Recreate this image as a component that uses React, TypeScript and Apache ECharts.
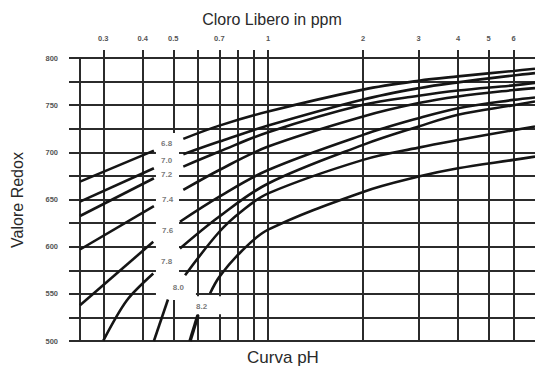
import React, { useEffect, useRef } from "react";
import * as echarts from "echarts";

// pH curve labels
const phLabels = ["6.8", "7.0", "7.2", "7.4", "7.6", "7.8", "8.0", "8.2"];

// left-hand pieces of each pH curve: [ppm, mV]
const leftSegments: number[][][] = [
  [[0.253, 668.9], [0.434, 701.8]],
  [[0.253, 647.7], [0.434, 683.1]],
  [[0.253, 632.5], [0.434, 672.5]],
  [[0.253, 597.0], [0.434, 643.1]],
  [[0.253, 537.9], [0.432, 605.2]],
  [[0.3, 500.5], [0.356, 543.0], [0.432, 571.6]],
  [[0.434, 500.0], [0.481, 544.0]],
  [[0.565, 500.0], [0.599, 527.6]],
];

// right-hand pieces of each pH curve: [ppm, mV]
const rightSegments: number[][][] = [
  [[0.538, 714.3], [0.7, 728.3], [1, 743.3], [2, 766.5], [3, 775.9], [4, 780.5], [6, 786.3], [7.02, 788.6]],
  [[0.538, 698.0], [0.7, 711.4], [1, 728.4], [2, 756.0], [3, 768.0], [4, 774.2], [6, 781.5], [7.02, 784.0]],
  [[0.538, 684.9], [0.7, 700.8], [1, 721.4], [2, 750.4], [3, 760.0], [4, 765.5], [6, 771.0], [7.02, 773.6]],
  [[0.538, 660.1], [0.7, 681.3], [1, 706.1], [2, 738.0], [3, 752.2], [4, 759.2], [6, 766.0], [7.02, 768.1]],
  [[0.525, 626.4], [0.7, 653.0], [1, 681.3], [2, 718.5], [3, 736.2], [4, 746.8], [6, 755.6], [7.02, 758.2]],
  [[0.525, 598.1], [0.7, 632.0], [1, 667.0], [2, 707.9], [3, 727.4], [4, 739.8], [6, 750.0], [7.02, 753.9]],
  [[0.545, 569.8], [0.7, 615.8], [0.82, 637.1], [1, 656.5], [2, 692.0], [3, 705.0], [4, 713.0], [6, 723.5], [7.02, 727.4]],
  [[0.654, 550.3], [0.7, 568.0], [0.82, 594.6], [1, 618.0], [2, 658.0], [3, 674.3], [4, 683.1], [6, 692.0], [7.02, 695.5]],
];

// where each pH label sits: [ppm, mV]
const labelAnchors: number[][] = [
  [0.4765, 709.0],
  [0.4765, 691.2],
  [0.4765, 676.0],
  [0.48, 650.2],
  [0.48, 617.6],
  [0.4765, 584.7],
  [0.5188, 556.7],
  [0.6152, 536.9],
];

// chlorine grid lines and labelled ticks (ppm)
const gridTicks = [0.3, 0.4, 0.5, 0.6, 0.7, 0.8, 0.9, 1, 2, 3, 4, 5, 6];
const tickLabels = [0.3, 0.4, 0.5, 0.7, 1, 2, 3, 4, 5, 6];

// white label boxes that interrupt the grid: [[ppm, mV], [ppm, mV]]
const maskAreas: number[][][] = [
  [[0.4406, 543.4], [0.5214, 720.6]],
  [[0.4637, 544.3], [0.59, 561.3]],
  [[0.5446, 528.4], [0.7457, 547.5]],
];

const X_MIN = 0.253;
const X_MAX = 7.02;

const GRID = "#2b2b2b";
const CURVE = "#151515";
const FONT = "Liberation Sans, Arial, sans-serif";

export default function App() {
  const ref = useRef<HTMLDivElement>(null);

  useEffect(() => {
    if (!ref.current) return;
    const chart = echarts.init(ref.current, undefined, { renderer: "svg" });

    const curveSeries: any[] = [];
    leftSegments.forEach((seg, i) => {
      curveSeries.push({
        type: "line",
        name: "pH " + phLabels[i] + " a",
        data: seg,
        showSymbol: false,
        smooth: 0.3,
        lineStyle: { color: CURVE, width: i === 7 ? 3.5 : 2.6 },
        z: 5,
        silent: true,
      });
    });
    rightSegments.forEach((seg, i) => {
      curveSeries.push({
        type: "line",
        name: "pH " + phLabels[i] + " b",
        data: seg,
        showSymbol: false,
        smooth: 0.35,
        lineStyle: { color: CURVE, width: 2.6 },
        z: 5,
        silent: true,
      });
    });

    const fmt = (v: number) => String(Number(v.toPrecision(3)));

    chart.setOption({
      animation: false,
      grid: { left: 80, right: 0, top: 58, bottom: 28 },
      xAxis: {
        type: "log",
        logBase: 10,
        min: X_MIN,
        max: X_MAX,
        position: "top",
        axisLine: { show: false },
        axisTick: {
          show: true,
          customValues: gridTicks,
          length: 8,
          lineStyle: { color: GRID, width: 2 },
        },
        axisLabel: {
          customValues: tickLabels,
          formatter: fmt,
          fontSize: 7.5,
          fontWeight: "bold",
          color: "#555",
          fontFamily: FONT,
          margin: 16,
        },
        splitLine: { show: true, lineStyle: { color: GRID, width: 2 } },
      },
      yAxis: {
        type: "value",
        min: 500,
        max: 800,
        interval: 25,
        axisLine: { show: true, lineStyle: { color: GRID, width: 2 } },
        axisTick: { show: true, length: 11, lineStyle: { color: GRID, width: 2 } },
        axisLabel: {
          formatter: (v: number) => (v % 50 === 0 ? String(v) : ""),
          fontSize: 7.5,
          fontWeight: "bold",
          color: "#555",
          fontFamily: FONT,
          margin: 22,
        },
        splitLine: { show: true, lineStyle: { color: GRID, width: 2 } },
      },
      graphic: [
        {
          type: "text",
          x: 272,
          y: 19,
          style: {
            text: "Cloro Libero in ppm",
            fontSize: 16,
            fill: "#2a2a2a",
            fontFamily: FONT,
            align: "center",
            verticalAlign: "middle",
          },
        },
        {
          type: "text",
          x: 283,
          y: 357,
          style: {
            text: "Curva pH",
            fontSize: 17,
            fill: "#2a2a2a",
            fontFamily: FONT,
            align: "center",
            verticalAlign: "middle",
          },
        },
        {
          type: "text",
          x: 17,
          y: 200,
          rotation: Math.PI / 2,
          style: {
            text: "Valore Redox",
            fontSize: 16,
            fill: "#2a2a2a",
            fontFamily: FONT,
            align: "center",
            verticalAlign: "middle",
          },
        },
      ],
      series: [
        {
          type: "line",
          name: "mask",
          data: [[1, 650]],
          showSymbol: false,
          silent: true,
          z: 2,
          lineStyle: { opacity: 0 },
          markArea: {
            silent: true,
            itemStyle: { color: "#ffffff", opacity: 1 },
            data: maskAreas.map(([a, b]) => [{ coord: a }, { coord: b }]),
          },
        },
        ...curveSeries,
        {
          type: "scatter",
          name: "labels",
          symbolSize: 0,
          silent: true,
          z: 6,
          data: labelAnchors.map((c, i) => ({ value: c, name: phLabels[i] })),
          label: {
            show: true,
            position: "inside",
            formatter: (p: any) => p.name,
            fontSize: 8,
            fontWeight: "bold",
            color: "#555",
            fontFamily: FONT,
          },
        },
      ],
    });

    return () => chart.dispose();
  }, []);

  return (
    <div
      ref={ref}
      style={{ position: "fixed", left: 0, top: 0, width: 535, height: 369, background: "#fff" }}
    />
  );
}
